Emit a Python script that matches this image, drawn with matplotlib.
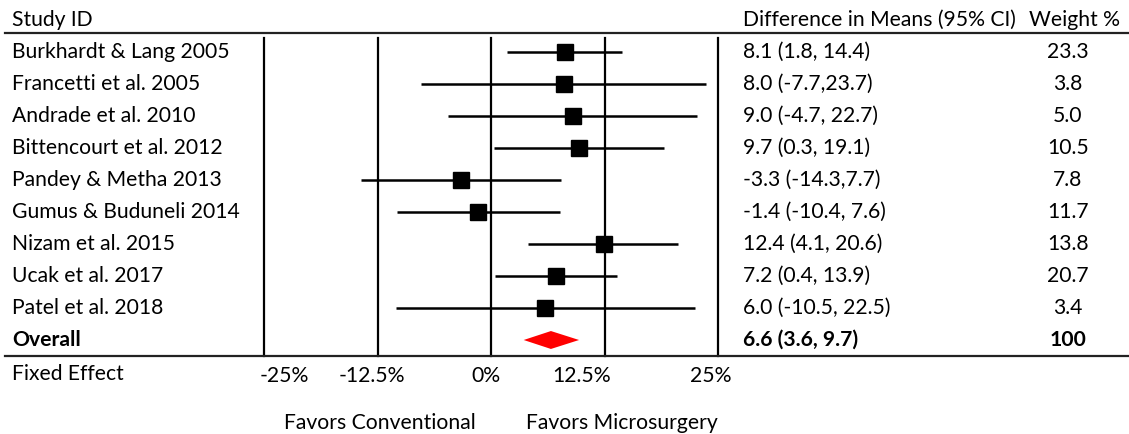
import matplotlib
matplotlib.use("Agg")
import matplotlib.pyplot as plt
from matplotlib.transforms import blended_transform_factory

# data
studies = ["Burkhardt & Lang 2005", "Francetti et al. 2005", "Andrade et al. 2010",
           "Bittencourt et al. 2012", "Pandey & Metha 2013", "Gumus & Buduneli 2014",
           "Nizam et al. 2015", "Ucak et al. 2017", "Patel et al. 2018"]
means = [8.1, 8.0, 9.0, 9.7, -3.3, -1.4, 12.4, 7.2, 6.0]
ci_low = [1.8, -7.7, -4.7, 0.3, -14.3, -10.4, 4.1, 0.4, -10.5]
ci_high = [14.4, 23.7, 22.7, 19.1, 7.7, 7.6, 20.6, 13.9, 22.5]
ci_text = ["8.1 (1.8, 14.4)", "8.0 (-7.7,23.7)", "9.0 (-4.7, 22.7)", "9.7 (0.3, 19.1)",
           "-3.3 (-14.3,7.7)", "-1.4 (-10.4, 7.6)", "12.4 (4.1, 20.6)", "7.2 (0.4, 13.9)",
           "6.0 (-10.5, 22.5)"]
weights = ["23.3", "3.8", "5.0", "10.5", "7.8", "11.7", "13.8", "20.7", "3.4"]

overall_mean, overall_low, overall_high = 6.6, 3.6, 9.7
overall_text = "6.6 (3.6, 9.7)"
overall_weight = "100"

grid_vals = [-25, -12.5, 0, 12.5, 25]
tick_labels = ["-25%", "-12.5%", "0%", "12.5%", "25%"]

plt.rcParams['font.family'] = ['Lato', 'DejaVu Sans']
FS = 15.2

W, H = 1129, 434
fig = plt.figure(figsize=(W / 100, H / 100), dpi=100)

# plot area: x pixels 264..718, y pixels 38..356
ax = fig.add_axes([264 / W, 1 - 356 / H, (718 - 264) / W, (356 - 38) / H])
ax.set_xlim(-25, 25)
ax.set_ylim(9.5, -0.4375)
for s in ax.spines.values():
    s.set_visible(False)
ax.set_yticks([])

# vertical reference lines
for v in grid_vals:
    ax.axvline(v, color='black', lw=1.6, clip_on=False, zorder=1)

rows = list(range(len(studies)))
ax.hlines(rows, ci_low, ci_high, color='black', lw=1.8, zorder=2)
ax.plot(means, rows, 's', color='black', markersize=12, zorder=3)

# overall diamond
yo = len(studies)
ax.fill([overall_low, overall_mean, overall_high, overall_mean],
        [yo, yo - 0.28, yo, yo + 0.28], color='#ff0000', lw=0, zorder=3)

# tick labels (slightly offset from the lines, as in the original)
label_pos = [-22.8, -13.1, -0.55, 10.0, 24.2]
ax.set_xticks(label_pos)
ax.set_xticklabels(tick_labels, fontsize=FS)
ax.tick_params(axis='x', length=0, pad=7)

# table columns
tr = blended_transform_factory(fig.transFigure, ax.transData)
xs_study = 12 / W
xs_ci = 743 / W
xs_w = 1068 / W
for i, name in enumerate(studies):
    fig.text(xs_study, i, name, transform=tr, fontsize=FS, va='center', ha='left')
    fig.text(xs_ci, i, ci_text[i], transform=tr, fontsize=FS, va='center', ha='left')
    fig.text(xs_w, i, weights[i], transform=tr, fontsize=FS, va='center', ha='center')
fig.text(xs_study, yo, "Overall", transform=tr, fontsize=FS, va='center', ha='left',
         fontweight='bold')
fig.text(xs_ci, yo, overall_text, transform=tr, fontsize=FS, va='center', ha='left',
         fontweight='bold')
fig.text(xs_w, yo, overall_weight, transform=tr, fontsize=FS, va='center', ha='center',
         fontweight='bold')

# headers
fig.text(xs_study, 1 - 20 / H, "Study ID", fontsize=FS, va='center', ha='left')
fig.text(xs_ci, 1 - 20 / H, "Difference in Means (95% CI)", fontsize=FS, va='center', ha='left')
fig.text(1120 / W, 1 - 20 / H, "Weight %", fontsize=FS, va='center', ha='right')
fig.text(xs_study, 1 - 374 / H, "Fixed Effect", fontsize=FS, va='center', ha='left')

# horizontal rules
fig.add_artist(plt.Line2D([5 / W, 1], [1 - 33 / H, 1 - 33 / H], color='#222222', lw=1.6))
fig.add_artist(plt.Line2D([5 / W, 1], [1 - 356 / H, 1 - 356 / H], color='#222222', lw=1.6))

# favors labels
fig.text(380 / W, 1 - 423 / H, "Favors Conventional", fontsize=FS, va='center', ha='center')
fig.text(622 / W, 1 - 423 / H, "Favors Microsurgery", fontsize=FS, va='center', ha='center')

fig.savefig("out.png", dpi=100, facecolor='white')
